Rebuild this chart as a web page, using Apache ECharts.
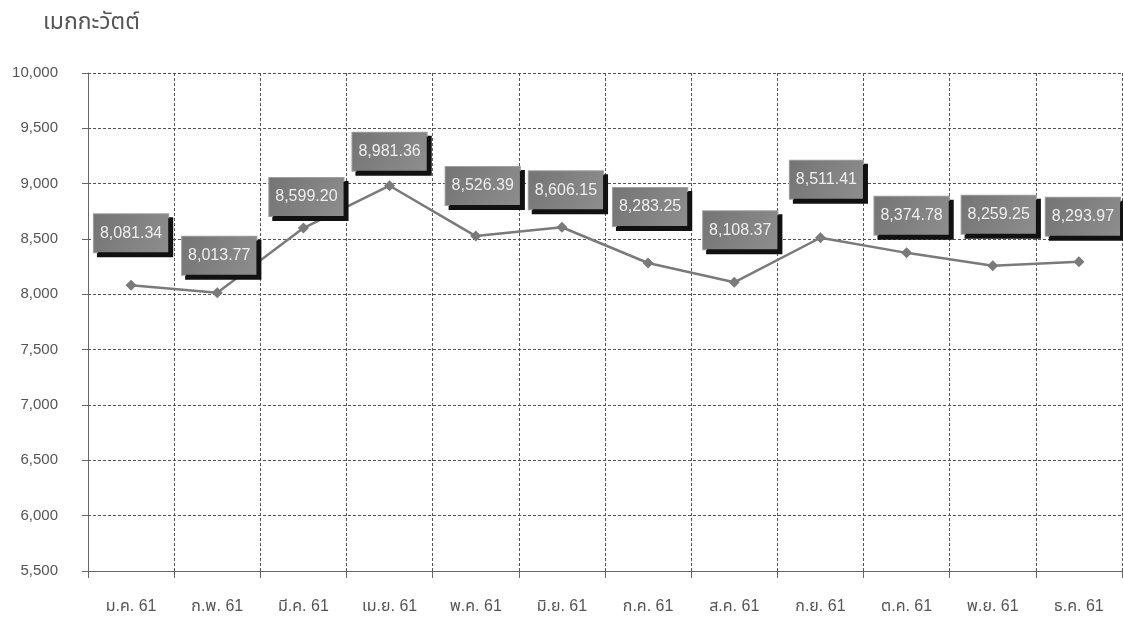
<!DOCTYPE html>
<html>
<head>
<meta charset="utf-8">
<script src="https://cdn.jsdelivr.net/npm/echarts@6/dist/echarts.min.js"></script>
<style>html,body{margin:0;padding:0;background:#fff;}#c{width:1123px;height:621px;}</style>
</head>
<body>
<div id="c"></div>
<script>
const categories = ['ม.ค. 61','ก.พ. 61','มี.ค. 61','เม.ย. 61','พ.ค. 61','มิ.ย. 61','ก.ค. 61','ส.ค. 61','ก.ย. 61','ต.ค. 61','พ.ย. 61','ธ.ค. 61'];
const values = [8081.34, 8013.77, 8599.20, 8981.36, 8526.39, 8606.15, 8283.25, 8108.37, 8511.41, 8374.78, 8259.25, 8293.97];
const yTicks = [5500, 6000, 6500, 7000, 7500, 8000, 8500, 9000, 9500, 10000];
const unitTitle = 'เมกกะวัตต์';
// label box offsets from each point (layout only)
const labelDx = [0, 2, 3, 0, 7, 4, 2, 6, 6, 5, 6, 4];
const labelDy = [-52, -37, -31, -34, -50, -37, -56, -52, -58, -37, -51, -45];

const fmt = v => v.toLocaleString('en-US', {minimumFractionDigits: 2, maximumFractionDigits: 2});
const font = '"Liberation Sans", Arial, "Noto Sans Thai", sans-serif';

const chart = echarts.init(document.getElementById('c'), null, {renderer: 'canvas'});
chart.setOption({
  animation: false,
  backgroundColor: '#fff',
  title: {
    text: unitTitle, left: 38, top: 6,
    textStyle: {fontSize: 23, fontWeight: 'normal', color: '#555', fontFamily: font}
  },
  grid: {left: 88, right: 1, top: 73, bottom: 50},
  xAxis: {
    type: 'category', data: categories, boundaryGap: true,
    axisLine: {lineStyle: {color: '#666', width: 1}},
    axisTick: {show: true, length: 7, lineStyle: {color: '#666'}},
    axisLabel: {margin: 28, fontSize: 16, color: '#555', fontFamily: font},
    splitLine: {show: true, lineStyle: {type: [3, 2], color: '#555', width: 1}}
  },
  yAxis: {
    type: 'value', min: yTicks[0], max: yTicks[yTicks.length - 1], interval: 500,
    axisLine: {show: true, lineStyle: {color: '#666', width: 1}},
    axisTick: {show: true, length: 6, lineStyle: {color: '#666'}},
    axisLabel: {margin: 30, fontSize: 15, color: '#555', fontFamily: font,
      formatter: v => v.toLocaleString('en-US')},
    splitLine: {show: true, lineStyle: {type: [3, 2], color: '#555', width: 1}}
  },
  series: [{
    type: 'line',
    data: values.map((v, i) => ({
      value: v,
      label: {offset: [labelDx[i], labelDy[i]]}
    })),
    symbol: 'diamond', symbolSize: 11,
    lineStyle: {color: '#7a7a7a', width: 2.5},
    itemStyle: {color: '#7a7a7a'},
    label: {
      show: true, position: 'inside',
      formatter: p => fmt(p.value),
      fontSize: 16, color: '#eeeeee', fontFamily: font,
      padding: [11, 6, 11, 6],
      backgroundColor: {
        type: 'linear', x: 0, y: 0, x2: 1, y2: 1,
        colorStops: [{offset: 0, color: '#747474'}, {offset: 1, color: '#8e8e8e'}]
      },
      borderColor: '#a0a0a0', borderWidth: 1,
      shadowColor: '#111', shadowOffsetX: 4, shadowOffsetY: 4, shadowBlur: 0
    },
    z: 3
  }]
});
</script>
</body>
</html>
